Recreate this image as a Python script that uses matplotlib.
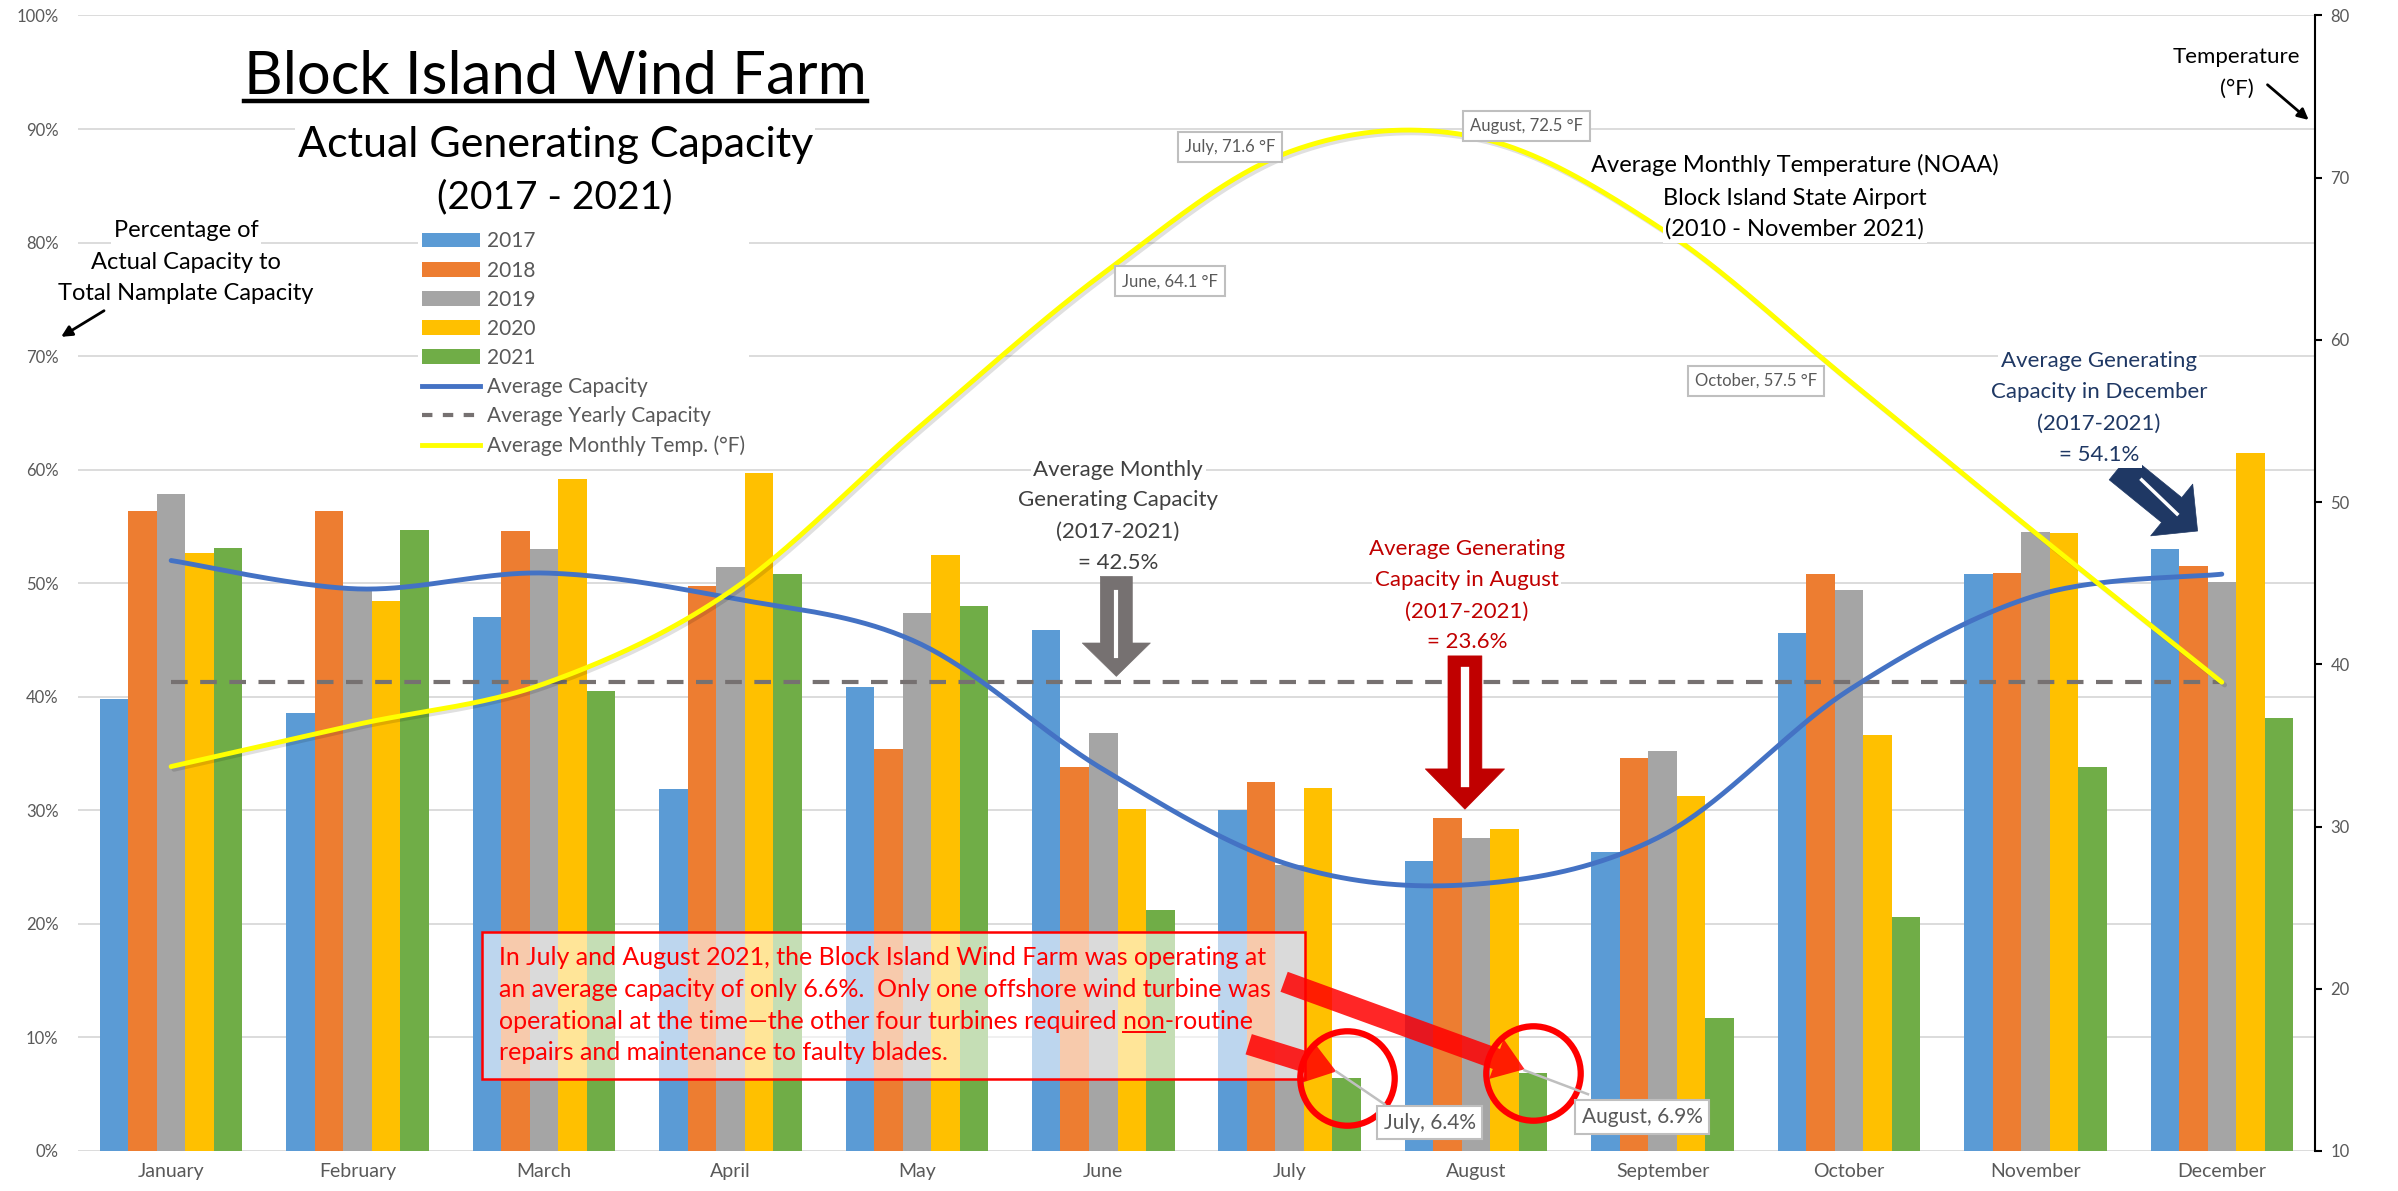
import numpy as np
import matplotlib
matplotlib.use("Agg")
import matplotlib.pyplot as plt
import matplotlib.patheffects as pe
from matplotlib.lines import Line2D
from matplotlib.patches import Patch, Rectangle
from matplotlib.transforms import IdentityTransform

plt.rcParams['font.family'] = ['Lato', 'DejaVu Sans']

months = ['January', 'February', 'March', 'April', 'May', 'June', 'July',
          'August', 'September', 'October', 'November', 'December']
years = ['2017', '2018', '2019', '2020', '2021']

# capacity factor (%) per month and year
cap_2017 = [39.8, 38.6, 47.0, 31.9, 40.9, 45.9, 30.0, 25.5, 26.3, 45.6, 50.8, 53.0]
cap_2018 = [56.4, 56.4, 54.6, 49.8, 35.4, 33.8, 32.5, 29.3, 34.6, 50.8, 50.9, 51.5]
cap_2019 = [57.9, 49.5, 53.0, 51.4, 47.4, 36.8, 25.2, 27.6, 35.2, 49.4, 54.5, 50.1]
cap_2020 = [52.7, 48.4, 59.2, 59.7, 52.5, 30.1, 32.0, 28.4, 31.3, 36.6, 54.4, 61.5]
cap_2021 = [53.1, 54.7, 40.5, 50.8, 48.0, 21.2, 6.4, 6.9, 11.7, 20.6, 33.8, 38.1]

avg_capacity = [52.0, 49.5, 50.9, 48.7, 44.8, 33.6, 25.2, 23.5, 27.8, 40.6, 48.9, 50.8]
avg_yearly = [41.3, 41.3, 41.3, 41.3, 41.3, 41.3, 41.3, 41.3, 41.3, 41.3, 41.3, 41.3]

# average monthly temperature (F), right axis
avg_temp = [33.7, 36.3, 38.8, 44.5, 54.5, 64.1, 71.6, 72.5, 66.8, 57.5, 48.1, 38.9]

temp_labelled = ['June', 'July', 'August', 'October']
outage_months = ['July', 'August']

colors = ['#5B9BD5', '#ED7D31', '#A5A5A5', '#FFC000', '#70AD47']


def smooth(xs, ys, n=40):
    # bezier smoothing the way excel does its "smoothed line"
    xs = np.asarray(xs, float)
    ys = np.asarray(ys, float)
    px, py = [], []
    m = len(xs)
    for i in range(m - 1):
        x0, y0, x1, y1 = xs[i], ys[i], xs[i + 1], ys[i + 1]
        xa, ya = (xs[i - 1], ys[i - 1]) if i > 0 else (x0, y0)
        xb, yb = (xs[i + 2], ys[i + 2]) if i + 2 < m else (x1, y1)
        c1 = (x0 + (x1 - xa) / 6, y0 + (y1 - ya) / 6)
        c2 = (x1 - (xb - x0) / 6, y1 - (yb - y0) / 6)
        t = np.linspace(0, 1, n, endpoint=(i == m - 2))
        a, b, c, d = (1 - t) ** 3, 3 * t * (1 - t) ** 2, 3 * t ** 2 * (1 - t), t ** 3
        px.append(a * x0 + b * c1[0] + c * c2[0] + d * x1)
        py.append(a * y0 + b * c1[1] + c * c2[1] + d * y1)
    return np.concatenate(px), np.concatenate(py)


fig = plt.figure(figsize=(23.98, 11.91), dpi=100)
ax = fig.add_axes([0.0325, 0.0336, 0.9329, 0.9534])

x = np.arange(len(months))
w = 0.153
caps = [cap_2017, cap_2018, cap_2019, cap_2020, cap_2021]
bars = []
for i, (yr, vals, c) in enumerate(zip(years, caps, colors)):
    bars.append(ax.bar(x + (i - 2) * w, vals, w, color=c, label=yr, zorder=2))

ax.set_xlim(-0.5, 11.5)
ax.set_ylim(0, 100)
ax.set_yticks(range(0, 101, 10))
ax.set_yticklabels(['%d%%' % v for v in range(0, 101, 10)])
ax.set_xticks(x)
ax.set_xticklabels(months)
ax.grid(axis='y', color='#D9D9D9', lw=1.3)
ax.set_axisbelow(True)
for s in ax.spines.values():
    s.set_visible(False)
ax.tick_params(axis='y', length=0, pad=14, labelsize=12, labelcolor='#595959')
ax.tick_params(axis='x', length=0, pad=9, labelsize=14, labelcolor='#595959')

sx, sy = smooth(x, avg_capacity)
ax.plot(sx, sy, color='#4472C4', lw=3.5, zorder=4, solid_capstyle='round')
ax.plot(x, avg_yearly, color='#767171', lw=3, dashes=(4, 3), zorder=3)

ax2 = ax.twinx()
ax2.set_ylim(10, 80)
ax2.set_yticks(range(10, 81, 10))
for k, s in ax2.spines.items():
    s.set_visible(k == 'right')
ax2.spines['right'].set_color('black')
ax2.spines['right'].set_linewidth(1.5)
ax2.tick_params(axis='y', length=5, width=1.5, color='black', pad=6,
                labelsize=12, labelcolor='#595959')

tx, ty = smooth(x, avg_temp)
ax2.plot(tx, ty, color='#FFFF00', lw=3.5, zorder=3, solid_capstyle='round',
         path_effects=[pe.SimpleLineShadow(offset=(2, -2), shadow_color='black', alpha=0.12),
                       pe.Normal()])

T = ax.transData
white = dict(facecolor='white', edgecolor='none', pad=2)

# legend
handles = bars + [
    Line2D([], [], color='#4472C4', lw=3.5),
    Line2D([], [], color='#767171', lw=3, dashes=(2.5, 2.5), solid_capstyle='round'),
    Line2D([], [], color='#FFFF00', lw=3.5),
]
labels = years + ['Average Capacity', 'Average Yearly Capacity', 'Average Monthly Temp. (\u00b0F)']
leg = ax2.legend(handles, labels, loc='upper left', bbox_to_anchor=(0.170, 0.818),
                 bbox_transform=fig.transFigure, fontsize=15, handlelength=2.75,
                 handletextpad=0.35, labelspacing=0.44, borderpad=0.2,
                 frameon=True, facecolor='white', edgecolor='none', framealpha=1,
                 labelcolor='#595959')
leg.set_zorder(10)

# titles
title = ax2.text(2.06, 93.1, 'Block Island Wind Farm', transform=T, ha='center',
                 va='baseline', fontsize=43, color='black', bbox=white, zorder=10)
ax2.text(2.06, 87.5, 'Actual Generating Capacity', transform=T, ha='center',
         va='baseline', fontsize=31, color='black', bbox=white, zorder=10)
ax2.text(2.06, 83.0, '(2017 - 2021)', transform=T, ha='center',
         va='baseline', fontsize=28, color='black', bbox=white, zorder=10)

for txt, yy in zip(['Percentage of', 'Actual Capacity to', 'Total Namplate Capacity'],
                   [80.5, 77.7, 74.9]):
    ax2.text(0.08, yy, txt, transform=T, ha='center', va='baseline', fontsize=17,
             color='black', bbox=white, zorder=10)
ax2.annotate('', xy=(-0.59, 71.7), xytext=(-0.36, 74.0), xycoords=T, textcoords=T,
             annotation_clip=False,
             arrowprops=dict(arrowstyle='-|>', color='black', lw=2, mutation_scale=16,
                             shrinkA=0, shrinkB=0))

ax2.text(11.08, 95.8, 'Temperature', transform=T, ha='center', va='baseline',
         fontsize=16, color='black')
ax2.text(11.08, 93.0, '(\u00b0F)', transform=T, ha='center', va='baseline',
         fontsize=16, color='black')
ax2.annotate('', xy=(11.466, 90.8), xytext=(11.245, 93.9), xycoords=T, textcoords=T,
             annotation_clip=False,
             arrowprops=dict(arrowstyle='-|>', color='black', lw=2, mutation_scale=16,
                             shrinkA=0, shrinkB=0))

for txt, yy in zip(['Average Monthly Temperature (NOAA)', 'Block Island State Airport',
                    '(2010 - November 2021)'], [86.2, 83.3, 80.6]):
    ax2.text(8.71, yy, txt, transform=T, ha='center', va='baseline', fontsize=17,
             color='black', bbox=white, zorder=10)

# temperature data labels
temp_pos = {'June': (5.36, 76.6), 'July': (5.68, 88.4), 'August': (7.27, 90.3),
            'October': (8.50, 67.8)}
for mname in temp_labelled:
    t = avg_temp[months.index(mname)]
    ax2.text(*temp_pos[mname], '%s, %.1f \u00b0F' % (mname, t), transform=T,
             ha='center', va='center', fontsize=12, color='#595959', zorder=11,
             bbox=dict(facecolor='white', edgecolor='#BFBFBF', lw=1.5, pad=5))

# callouts
def block_arrow(p0, p1, color, tail, head_w, head_l, stripe=None, stripe_lw=3):
    ax2.annotate('', xy=p1, xytext=p0, xycoords=T, textcoords=T, zorder=9,
                 arrowprops=dict(arrowstyle='simple,head_length=%g,head_width=%g,tail_width=%g'
                                 % (head_l, head_w, tail), mutation_scale=20,
                                 fc=color, ec=color, lw=0.5, shrinkA=0, shrinkB=0))
    if stripe:
        ax2.plot(*zip(*stripe), color='white', lw=stripe_lw, transform=T, zorder=9.5)

for txt, yy in zip(['Average Monthly', 'Generating Capacity', '(2017-2021)', '= 42.5%'],
                   [60.0, 57.3, 54.5, 51.8]):
    ax2.text(5.08, yy, txt, transform=T, ha='center', va='center', fontsize=16,
             color='#404040', bbox=white, zorder=10)
block_arrow((5.07, 50.6), (5.07, 41.8), '#767171', 1.15, 2.45, 1.2,
            stripe=[(5.07, 49.2), (5.07, 43.6)], stripe_lw=3)

for txt, yy in zip(['Average Generating', 'Capacity in August', '(2017-2021)', '= 23.6%'],
                   [53.0, 50.3, 47.5, 44.8]):
    ax2.text(6.95, yy, txt, transform=T, ha='center', va='center', fontsize=16,
             color='#C00000', bbox=white, zorder=10)
block_arrow((6.94, 43.6), (6.94, 30.1), '#C00000', 1.22, 2.85, 1.45,
            stripe=[(6.94, 42.3), (6.94, 32.4)], stripe_lw=6)

for txt, yy in zip(['Average Generating', 'Capacity in December', '(2017-2021)', '= 54.1%'],
                   [69.6, 66.8, 64.0, 61.3]):
    ax2.text(10.34, yy, txt, transform=T, ha='center', va='center', fontsize=16,
             color='#1F3864', bbox=white, zorder=10)
block_arrow((10.45, 60.2), (10.87, 54.6), '#1F3864', 1.15, 2.4, 1.2,
            stripe=[(10.57, 59.1), (10.76, 56.1)], stripe_lw=2.5)

# outage note
ax2.add_patch(Rectangle((1.667, 6.3), 6.08 - 1.667, 19.3 - 6.3, transform=T,
                        facecolor='white', alpha=0.6, edgecolor='none', zorder=8))
ax2.add_patch(Rectangle((1.667, 6.3), 6.08 - 1.667, 19.3 - 6.3, transform=T,
                        facecolor='none', edgecolor='#FF0000', lw=1.8, zorder=8))
note_lines = ['In July and August 2021, the Block Island Wind Farm was operating at',
              'an average capacity of only 6.6%.  Only one offshore wind turbine was',
              'operational at the time\u2014the other four turbines required non-routine',
              'repairs and maintenance to faulty blades.']
note_size = 18
note_txt = []
for txt, yy in zip(note_lines, [17.0, 14.2, 11.4, 8.7]):
    note_txt.append(ax2.text(1.76, yy, txt, transform=T, ha='left', va='center',
                             fontsize=note_size, color='#FF0000', zorder=9))

for mname in outage_months:
    i = months.index(mname)
    ax2.plot([x[i] + 2 * w], [cap_2021[i]], transform=T, marker='o', ms=68, mfc='none',
             mec='#FF0000', mew=4.5, zorder=9)

arrow_red = 'simple,head_length=1.2,head_width=1.7,tail_width=0.85'
for p0, p1 in [((5.78, 9.4), (6.25, 7.0)), ((5.97, 14.9), (7.26, 7.2))]:
    ax2.annotate('', xy=p1, xytext=p0, xycoords=T, textcoords=T, zorder=9,
                 arrowprops=dict(arrowstyle=arrow_red, mutation_scale=18, fc='#FF0000',
                                 ec='none', alpha=0.85, shrinkA=0, shrinkB=0))

out_pos = {'July': ((6.75, 2.5), (6.25, 7.0), (6.51, 4.1)),
           'August': ((7.89, 3.0), (7.26, 7.1), (7.60, 5.0))}
for mname in outage_months:
    i = months.index(mname)
    pos, a, b = out_pos[mname]
    ax2.plot([a[0], b[0]], [a[1], b[1]], color='#BFBFBF', lw=1.8, transform=T, zorder=9)
    ax2.text(*pos, '%s, %.1f%%' % (mname, cap_2021[i]), transform=T, ha='center',
             va='center', fontsize=15, color='#595959', zorder=10,
             bbox=dict(facecolor='white', edgecolor='#BFBFBF', lw=1.5, pad=5))

# underlines (title and the word "non")
fig.canvas.draw()
r = fig.canvas.get_renderer()
bb = title.get_window_extent(r)
_, _, d = r.get_text_width_height_descent('lp', title.get_fontproperties(), ismath=False)
yl = bb.y0 + d - 7
fig.add_artist(Line2D([bb.x0, bb.x1], [yl, yl], color='black', lw=3.2,
                      transform=IdentityTransform()))

t3 = note_txt[2]
e_all = t3.get_window_extent(r)
m1 = ax2.text(1.76, 11.4, 'operational at the time\u2014the other four turbines required non',
              transform=T, fontsize=note_size, va='center')
m2 = ax2.text(1.76, 11.4, 'non', transform=T, fontsize=note_size, va='center')
e1 = m1.get_window_extent(r)
e2 = m2.get_window_extent(r)
m1.remove()
m2.remove()
_, _, d3 = r.get_text_width_height_descent('lp', t3.get_fontproperties(), ismath=False)
yu = e_all.y0 + d3 - 3
fig.add_artist(Line2D([e_all.x0 + e1.width - e2.width, e_all.x0 + e1.width], [yu, yu],
                      color='#FF0000', lw=1.4, transform=IdentityTransform()))

fig.savefig('out.png', dpi=100)
